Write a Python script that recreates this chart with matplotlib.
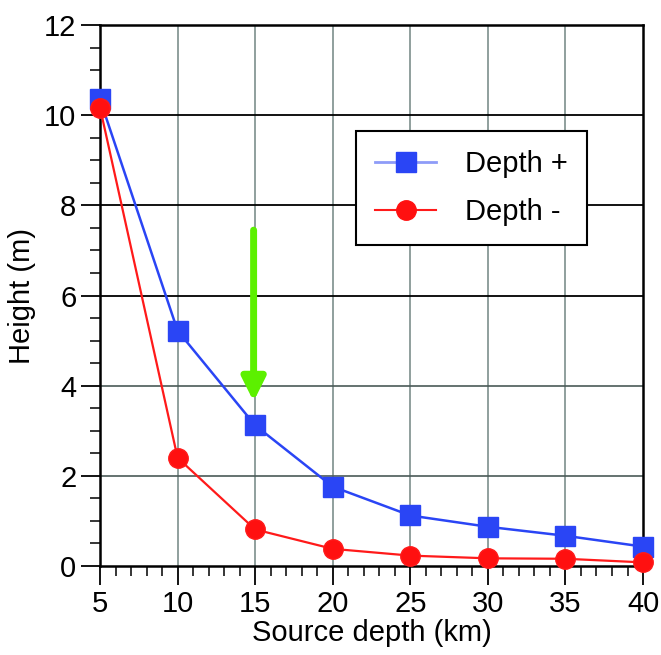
import matplotlib
matplotlib.use("Agg")
import matplotlib.pyplot as plt
from matplotlib.ticker import MultipleLocator
from matplotlib.lines import Line2D

depth_km = [5, 10, 15, 20, 25, 30, 35, 40]
height_plus = [10.35, 5.22, 3.12, 1.76, 1.12, 0.87, 0.67, 0.43]
height_minus = [10.17, 2.40, 0.81, 0.38, 0.23, 0.17, 0.16, 0.08]
label_plus = "Depth +"
label_minus = "Depth -"
xlabel = "Source depth (km)"
ylabel = "Height (m)"
arrow_x = 14.9
arrow_y_start = 7.45
arrow_y_end = 3.65

plt.rcParams['font.family'] = ['Liberation Sans', 'DejaVu Sans']
FS = 21

fig = plt.figure(figsize=(6.61, 6.55), dpi=100)
ax = fig.add_axes([0.1513, 0.1359, 0.8215, 0.8259])

ax.set_xlim(5, 40)
ax.set_ylim(0, 12)

# grid
for xv in range(10, 40, 5):
    ax.axvline(xv, color='#7d8f8c', lw=1.2, zorder=1)
for yv in [2, 4]:
    ax.axhline(yv, color='#4a5a58', lw=1.2, zorder=1)
for yv in [6, 8, 10]:
    ax.axhline(yv, color='black', lw=1.3, zorder=1)

ax.plot(depth_km, height_plus, color='#2a45f5', lw=1.8, marker='s', ms=14,
        mec='#2a45f5', mfc='#2a45f5', zorder=3, clip_on=False)
ax.plot(depth_km, height_minus, color='#ff1a1a', lw=1.6, marker='o', ms=14,
        mec='#ff1a1a', mfc='#ff1010', zorder=4, clip_on=False)

# legend proxies (lighter lines)
h1 = Line2D([], [], color='#8e9cf8', lw=2, marker='s', ms=14, mfc='#2a45f5', mec='#2a45f5')
h2 = Line2D([], [], color='#ff1a1a', lw=1.5, marker='o', ms=14, mfc='#ff1010', mec='#ff1010')
leg = ax.legend([h1, h2], [label_plus, label_minus], loc='upper left',
                bbox_to_anchor=(0.4715, 0.804), fontsize=FS, frameon=True,
                fancybox=False, edgecolor='black', handlelength=2.1,
                borderpad=0.65, labelspacing=0.7, handletextpad=1.0,
                borderaxespad=0, framealpha=1)
leg.get_frame().set_linewidth(1.5)
leg.set_zorder(5)

# green arrow
ax.annotate('', xy=(arrow_x, arrow_y_end), xytext=(arrow_x, arrow_y_start),
            arrowprops=dict(arrowstyle='-|>,head_width=0.7,head_length=1.4',
                            color='#5cf000', lw=5, shrinkA=0, shrinkB=0),
            zorder=2)

for s in ax.spines.values():
    s.set_linewidth(1.8)
    s.set_color('black')

ax.xaxis.set_major_locator(MultipleLocator(5))
ax.xaxis.set_minor_locator(MultipleLocator(1))
ax.yaxis.set_major_locator(MultipleLocator(2))
ax.yaxis.set_minor_locator(MultipleLocator(0.5))
ax.tick_params(which='major', direction='out', length=14, width=1.3, labelsize=FS, pad=3)
ax.tick_params(which='minor', direction='out', length=7, width=1.1)

ax.set_xlabel(xlabel, fontsize=FS, labelpad=1)
ax.set_ylabel(ylabel, fontsize=FS, labelpad=6)

fig.savefig("out.png", dpi=100)
